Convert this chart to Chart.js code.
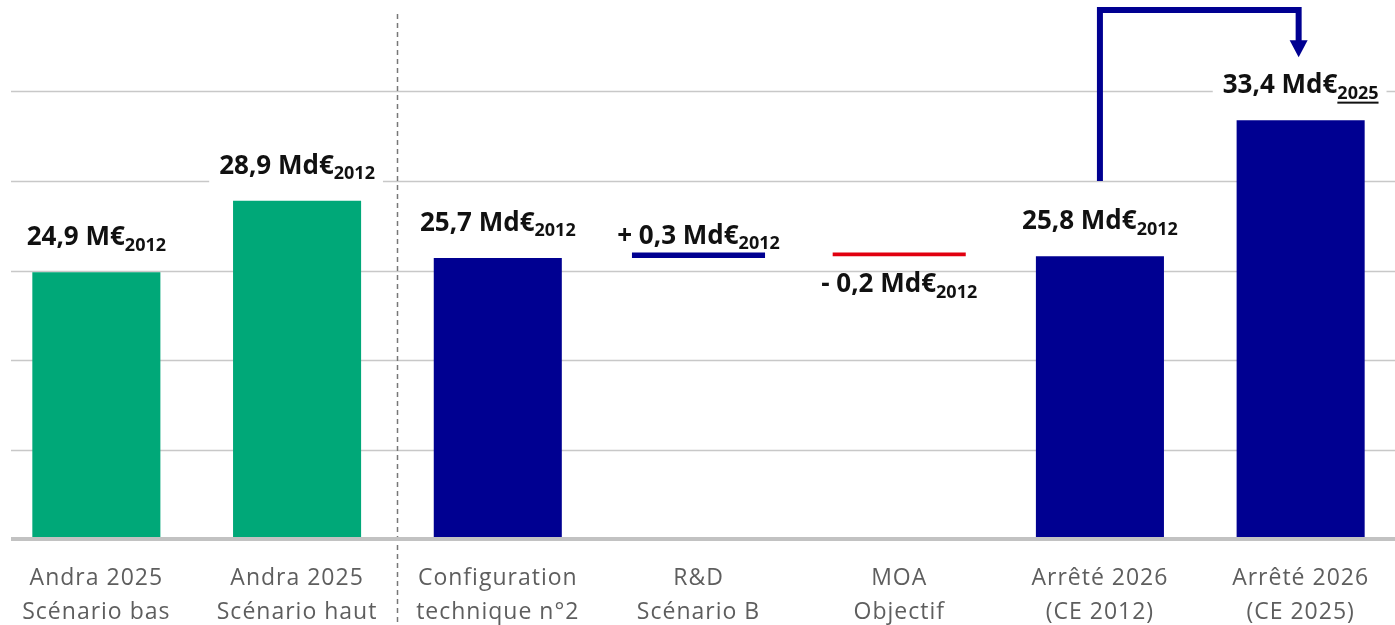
<!DOCTYPE html>
<html>
<head>
<meta charset="utf-8">
<script src="https://cdn.jsdelivr.net/npm/chart.js@4.4.1/dist/chart.umd.min.js"></script>
<style>
    html, body { margin: 0; padding: 0; background: #fff; overflow: hidden; }
    #wrap { position: absolute; left: -4px; top: 0; width: 1405px; height: 625px; }
</style>
</head>
<body>
<div id="wrap"><canvas id="chart"></canvas></div>
<script>
const categories = [
    ['Andra 2025', 'Scénario bas'],
    ['Andra 2025', 'Scénario haut'],
    ['Configuration', 'technique n°2'],
    ['R&D', 'Scénario B'],
    ['MOA', 'Objectif'],
    ['Arrêté 2026', '(CE 2012)'],
    ['Arrêté 2026', '(CE 2025)']
];
const totals = [24.9, 28.9, 25.7, null, null, 25.8, 33.4];
const changes = [null, null, null, 0.3, -0.2, null, null];
const valueLabels = ['24,9 M€', '28,9 Md€', '25,7 Md€', '+ 0,3 Md€', '- 0,2 Md€', '25,8 Md€', '33,4 Md€'];
const labelYears = ['2012', '2012', '2012', '2012', '2012', '2012', '2025'];
const yTicks = [15, 20, 25, 30, 35];

const GREEN = '#00a878';
const BLUE = '#000091';
const RED = '#e1000f';

// floating segments for the variations, chained from the last total
let running = null;
const changeBars = changes.map((c, i) => {
    if (totals[i] !== null) { running = totals[i]; return null; }
    if (c === null) return null;
    const start = running;
    running = Math.round((running + c) * 100) / 100;
    return [Math.min(start, running), Math.max(start, running)];
});

const mainFont = 'bold 26px "Open Sans"';
const subFont = 'bold 18px "Open Sans"';

function labelPlacement(chart, i) {
    const x = chart.scales.x, y = chart.scales.y;
    const cx = x.getPixelForValue(i);
    if (totals[i] !== null) {
        return { cx, baseline: y.getPixelForValue(totals[i]) - 27, above: true };
    }
    const r = changeBars[i];
    if (changes[i] > 0) {
        return { cx, baseline: y.getPixelForValue(r[1]) - 9, above: true };
    }
    return { cx, baseline: y.getPixelForValue(r[0]) + 36, above: false };
}

function measureLabel(ctx, i) {
    ctx.font = mainFont;
    const w1 = ctx.measureText(valueLabels[i]).width;
    ctx.font = subFont;
    const w2 = ctx.measureText(labelYears[i]).width;
    return { w1, w2 };
}

const decorPlugin = {
    id: 'decor',
    beforeDraw(chart) {
        // wider tracking for the category labels
        chart.ctx.letterSpacing = '1px';
    },
    beforeDatasetsDraw(chart) {
        const ctx = chart.ctx, x = chart.scales.x, y = chart.scales.y;
        ctx.letterSpacing = '0px';
        const left = 15, right = chart.width;
        ctx.save();
        // gridlines
        ctx.strokeStyle = '#c8c8c8';
        ctx.lineWidth = 1.5;
        yTicks.forEach(t => {
            const py = Math.round(y.getPixelForValue(t)) + 0.5;
            ctx.beginPath();
            ctx.moveTo(left, py);
            ctx.lineTo(right, py);
            ctx.stroke();
        });
        // dashed separator
        const sx = Math.round((x.getPixelForValue(1) + x.getPixelForValue(2)) / 2) + 0.5;
        ctx.strokeStyle = '#777';
        ctx.lineWidth = 1.5;
        ctx.setLineDash([5, 4]);
        ctx.beginPath();
        ctx.moveTo(sx, 14);
        ctx.lineTo(sx, chart.height);
        ctx.stroke();
        ctx.setLineDash([]);
        // white boxes behind the value labels
        ctx.fillStyle = '#fff';
        valueLabels.forEach((_, i) => {
            const p = labelPlacement(chart, i);
            if (!p.above) return;
            const m = measureLabel(ctx, i);
            const x0 = p.cx - (m.w1 + m.w2) / 2;
            ctx.fillRect(x0 - 10, p.baseline - 24, m.w1 + m.w2 + 18, 36);
        });
        ctx.restore();
    },
    afterDatasetsDraw(chart) {
        const ctx = chart.ctx, x = chart.scales.x, y = chart.scales.y;
        const area = chart.chartArea;
        ctx.save();
        // axis line
        ctx.strokeStyle = '#c2c2c2';
        ctx.lineWidth = 4;
        ctx.beginPath();
        ctx.moveTo(15, area.bottom);
        ctx.lineTo(chart.width - 6, area.bottom);
        ctx.stroke();

        // value labels with subscript year
        ctx.fillStyle = '#111';
        ctx.textBaseline = 'alphabetic';
        ctx.textAlign = 'left';
        valueLabels.forEach((txt, i) => {
            const p = labelPlacement(chart, i);
            const m = measureLabel(ctx, i);
            const x0 = p.cx - (m.w1 + m.w2) / 2;
            ctx.font = mainFont;
            ctx.fillText(txt, x0, p.baseline);
            ctx.font = subFont;
            ctx.fillText(labelYears[i], x0 + m.w1, p.baseline + 5.5);
            if (i === valueLabels.length - 1) {
                ctx.fillRect(x0 + m.w1, p.baseline + 8.5, m.w2, 2);
            }
        });

        // arrow from CE 2012 to CE 2025
        const xa = x.getPixelForValue(5), xb = x.getPixelForValue(6) - 2;
        const yStart = y.getPixelForValue(30);
        const yTop = area.top + 8;
        const tip = y.getPixelForValue(totals[6]) - 63;
        ctx.strokeStyle = BLUE;
        ctx.fillStyle = BLUE;
        ctx.lineWidth = 6;
        ctx.lineJoin = 'miter';
        ctx.beginPath();
        ctx.moveTo(xa, yStart);
        ctx.lineTo(xa, yTop);
        ctx.lineTo(xb, yTop);
        ctx.lineTo(xb, tip - 16);
        ctx.stroke();
        ctx.beginPath();
        ctx.moveTo(xb - 9, tip - 17);
        ctx.lineTo(xb + 9, tip - 17);
        ctx.lineTo(xb, tip);
        ctx.closePath();
        ctx.fill();
        ctx.restore();
    }
};

new Chart(document.getElementById('chart').getContext('2d'), {
    type: 'bar',
    data: {
        labels: categories,
        datasets: [{
            data: totals,
            backgroundColor: totals.map((v, i) => i < 2 ? GREEN : BLUE),
            barPercentage: 0.638,
            categoryPercentage: 1,
            grouped: false
        }, {
            data: changeBars,
            backgroundColor: changes.map(c => c > 0 ? BLUE : RED),
            barPercentage: 0.663,
            categoryPercentage: 1,
            grouped: false
        }]
    },
    options: {
        responsive: true,
        maintainAspectRatio: false,
        animation: false,
        layout: { padding: { top: 2, left: 0, right: 0, bottom: 0 } },
        plugins: {
            legend: { display: false },
            tooltip: { enabled: false }
        },
        scales: {
            x: {
                grid: { display: false },
                border: { display: false },
                ticks: {
                    color: '#5e5e5e',
                    font: { family: 'Open Sans', size: 23, lineHeight: 1.45 },
                    padding: 15,
                    maxRotation: 0,
                    autoSkip: false
                },
                afterFit(scale) { scale.height = 86; }
            },
            y: {
                display: false,
                min: 10,
                max: 40
            }
        }
    },
    plugins: [decorPlugin]
});
</script>
</body>
</html>
